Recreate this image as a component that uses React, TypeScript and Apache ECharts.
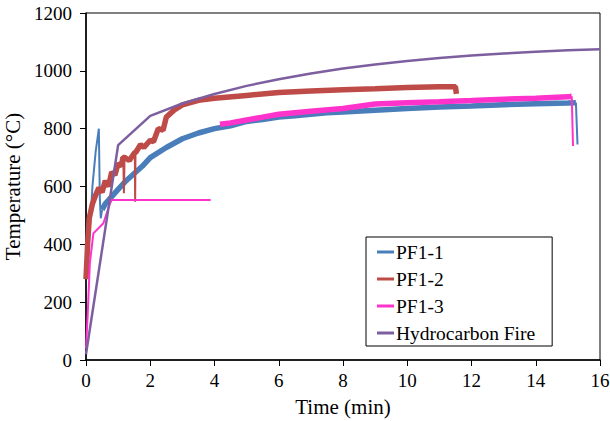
import React, { useEffect, useRef } from "react";
import * as echarts from "echarts";

const xTicks = [0, 2, 4, 6, 8, 10, 12, 14, 16];
const yTicks = [0, 200, 400, 600, 800, 1000, 1200];

const pf11Early: number[][] = [
  [0, 330], [0.05, 380], [0.1, 430], [0.15, 500], [0.2, 600], [0.3, 720], [0.4, 800],
  [0.43, 560], [0.46, 490], [0.5, 520],
];
const pf11: number[][] = [
  [0.5, 520], [0.6, 540], [0.8, 565], [1.0, 590], [1.25, 620],
  [1.5, 645], [1.75, 670], [2.0, 700], [2.5, 735], [3.0, 765], [3.5, 785], [4.0, 800],
  [4.5, 810], [5, 825], [5.5, 832], [6, 840], [6.5, 845], [7, 850], [7.5, 855], [8, 858],
  [9, 864], [10, 870], [11, 875], [12, 878], [13, 883], [14, 886], [15, 889], [15.25, 890],
];
const pf11Drop: number[][] = [[15.25, 890], [15.3, 745]];

const pf12: number[][] = [
  [0, 280], [0.05, 400], [0.1, 490], [0.2, 540], [0.3, 570], [0.4, 595], [0.5, 580],
  [0.6, 620], [0.7, 600], [0.8, 650], [0.9, 640], [1.0, 680], [1.1, 670], [1.15, 700],
  [1.21, 700], [1.35, 690], [1.5, 715], [1.56, 720], [1.7, 745],
  [1.8, 735], [2.0, 760], [2.1, 755], [2.25, 800], [2.4, 795], [2.5, 840], [2.75, 865],
  [3.0, 882], [3.5, 898], [4, 905], [5, 915], [6, 925], [7, 930], [8, 935], [9, 938],
  [10, 942], [11, 945], [11.5, 945], [11.53, 920],
];
const pf12DipA: number[][] = [[1.16, 700], [1.18, 577], [1.2, 700]];
const pf12DipB: number[][] = [[1.52, 715], [1.53, 547], [1.54, 717]];

const pf13Early: number[][] = [
  [0, 40], [0.05, 150], [0.12, 335], [0.23, 438], [0.54, 473], [0.75, 542], [0.8, 553],
  [3.88, 553],
];
const pf13: number[][] = [
  [4.17, 815], [4.5, 820], [5, 830], [5.5, 840], [6, 850],
  [7, 860], [8, 870], [9, 885], [10, 890], [11, 893], [12, 897], [13, 902], [14, 905],
  [15, 910], [15.12, 912],
];
const pf13Drop: number[][] = [[15.12, 912], [15.16, 740]];

const hydro: number[][] = [
  [0, 20], [1, 743], [2, 844], [3, 887], [4, 920], [5, 948], [6, 971], [7, 991],
  [8, 1008], [9, 1022], [10, 1034], [11, 1044], [12, 1053], [13, 1060], [14, 1066],
  [15, 1071], [16, 1075],
];

const names = ["PF1-1", "PF1-2", "PF1-3", "Hydrocarbon Fire"];
const colors = ["#4a7ebb", "#be4b48", "#ff33cc", "#7d5fa0"];

const FONT = "Liberation Serif";

export default function App() {
  const ref = useRef<HTMLDivElement>(null);
  useEffect(() => {
    if (!ref.current) return;
    const chart = echarts.init(ref.current, undefined, { renderer: "svg" });
    const mk = (name: string, data: number[][], color: string, width: number, z: number) => ({
      name,
      type: "line",
      data,
      showSymbol: false,
      symbol: "none",
      color,
      lineStyle: { color, width },
      z,
    });
    chart.setOption({
      animation: false,
      textStyle: { fontFamily: FONT },
      grid: {
        left: 86, right: 10, top: 13, bottom: 61,
        outerBoundsMode: "none",
        containLabel: false,
        show: true, borderColor: "#000", borderWidth: 1,
      },
      legend: {
        orient: "vertical",
        left: 366, top: 237,
        data: names.map((n, i) => ({ name: n, itemStyle: { color: colors[i] } })),
        icon: "rect",
        itemWidth: 17, itemHeight: 3,
        itemGap: 7,
        padding: [5, 17, 3, 11],
        backgroundColor: "#fff",
        borderColor: "#000",
        borderWidth: 1,
        textStyle: { fontFamily: FONT, fontSize: 19.5, color: "#000", padding: [0, 0, 0, -3], lineHeight: 20 },
      },
      xAxis: {
        type: "value",
        min: xTicks[0], max: xTicks[xTicks.length - 1], interval: 2,
        name: "Time (min)", nameLocation: "middle", nameGap: 36,
        nameTextStyle: { fontFamily: FONT, fontSize: 21, color: "#000" },
        axisLine: { lineStyle: { color: "#000", width: 1.5 } },
        axisTick: { show: true, length: 6, lineStyle: { color: "#000" } },
        axisLabel: { fontFamily: FONT, fontSize: 19, color: "#000", margin: 11, formatter: (v: number) => String(v) },
        splitLine: { show: false },
      },
      yAxis: {
        type: "value",
        min: yTicks[0], max: yTicks[yTicks.length - 1], interval: 200,
        name: "Temperature (°C)", nameLocation: "middle", nameGap: 56,
        nameTextStyle: { fontFamily: FONT, fontSize: 21, color: "#000" },
        axisLine: { show: true, lineStyle: { color: "#000", width: 1.5 } },
        axisTick: { show: true, length: 6, lineStyle: { color: "#000" } },
        axisLabel: { fontFamily: FONT, fontSize: 19, color: "#000", margin: 14, formatter: (v: number) => String(v) },
        splitLine: { show: false },
      },
      series: [
        mk(names[0], pf11Early, colors[0], 2, 2),
        mk(names[0], pf11, colors[0], 5.5, 2),
        mk(names[0], pf11Drop, colors[0], 2, 2),
        mk(names[1], pf12, colors[1], 5.5, 3),
        mk(names[1], pf12DipA, colors[1], 2, 3),
        mk(names[1], pf12DipB, colors[1], 2, 3),
        mk(names[2], pf13Early, colors[2], 2, 4),
        mk(names[2], pf13, colors[2], 5.5, 4),
        mk(names[2], pf13Drop, colors[2], 2, 4),
        mk(names[3], hydro, colors[3], 2.5, 5),
      ],
    });
    return () => chart.dispose();
  }, []);
  return <div ref={ref} style={{ width: 610, height: 421, position: "absolute", left: 0, top: 0 }} />;
}
